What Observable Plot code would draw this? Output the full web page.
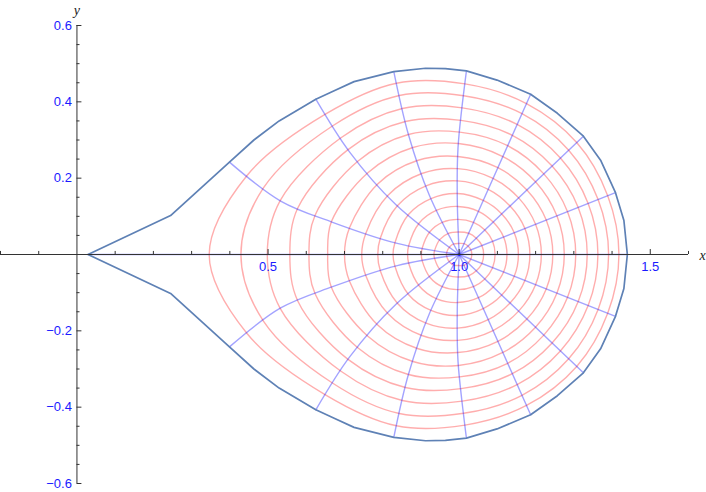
<!DOCTYPE html>
<html>
<head>
<meta charset="utf-8">
<script src="https://cdn.jsdelivr.net/npm/d3@7"></script>
<script src="https://cdn.jsdelivr.net/npm/@observablehq/plot@0.6"></script>
<style>
  html, body { margin: 0; padding: 0; background: #fff; }
</style>
</head>
<body>
<div id="chart"></div>
<script>
// ---- data (data units) ----
const center = [1.0, 0.0];

// outer boundary, upper half, from the right end round to the tip
const boundaryUpper = [
  [1.440, 0.000], [1.431, 0.089], [1.409, 0.162], [1.370, 0.247], [1.325, 0.310],
  [1.257, 0.370], [1.187, 0.420], [1.099, 0.457], [1.019, 0.481], [0.964, 0.487],
  [0.912, 0.488], [0.829, 0.479], [0.725, 0.453], [0.673, 0.429], [0.625, 0.407],
  [0.529, 0.350], [0.463, 0.300], [0.399, 0.242], [0.245, 0.102], [0.029, 0.000]
];

// blue mesh curves (upper half), from the centre out to the boundary
const rayPaths = [
  [[1, 0], [1.440, 0]],
  [[1, 0], [1.409, 0.162]],
  [[1, 0], [1.325, 0.310]],
  [[1, 0], [1.187, 0.420]],
  [[1, 0], [0.995, 0.150], [0.997, 0.280], [1.019, 0.481]],
  [[1, 0], [0.922, 0.155], [0.867, 0.315], [0.829, 0.479]],
  [[1, 0], [0.834, 0.131], [0.713, 0.269], [0.625, 0.407]],
  [[1, 0], [0.838, 0.029], [0.667, 0.085], [0.533, 0.140], [0.399, 0.242]],
  [[1, 0], [0.029, 0]]
];

// distance along each blue curve at which the 14 red contours cross it
const contourRadii = [
  [0.033, 0.064, 0.094, 0.125, 0.155, 0.185, 0.215, 0.245, 0.275, 0.305, 0.335, 0.363, 0.391, 0.418],
  [0.033, 0.064, 0.094, 0.125, 0.155, 0.185, 0.215, 0.245, 0.275, 0.305, 0.335, 0.363, 0.391, 0.418],
  [0.032, 0.062, 0.093, 0.123, 0.154, 0.184, 0.215, 0.245, 0.276, 0.306, 0.336, 0.366, 0.396, 0.425],
  [0.031, 0.061, 0.092, 0.124, 0.155, 0.187, 0.218, 0.249, 0.281, 0.312, 0.342, 0.373, 0.404, 0.433],
  [0.029, 0.059, 0.092, 0.126, 0.160, 0.193, 0.225, 0.257, 0.291, 0.321, 0.352, 0.385, 0.417, 0.448],
  [0.031, 0.062, 0.095, 0.130, 0.164, 0.200, 0.234, 0.270, 0.306, 0.342, 0.377, 0.412, 0.447, 0.480],
  [0.032, 0.064, 0.097, 0.133, 0.169, 0.206, 0.243, 0.283, 0.322, 0.362, 0.402, 0.438, 0.476, 0.512],
  [0.033, 0.065, 0.098, 0.134, 0.171, 0.211, 0.251, 0.296, 0.346, 0.392, 0.441, 0.491, 0.546, 0.600],
  [0.033, 0.066, 0.099, 0.135, 0.173, 0.213, 0.255, 0.300, 0.344, 0.393, 0.443, 0.502, 0.571, 0.654]
];

// axes
const xMajorTicks = [0.5, 1.0, 1.5];
const xTickLabels = ["0.5", "1.0", "1.5"];
const xMinorTicks = [-0.2, -0.1, 0.1, 0.2, 0.3, 0.4, 0.6, 0.7, 0.8, 0.9, 1.1, 1.2, 1.3, 1.4, 1.6];
const yMajorTicks = [-0.6, -0.4, -0.2, 0.2, 0.4, 0.6];
const yTickLabels = ["\u22120.6", "\u22120.4", "\u22120.2", "0.2", "0.4", "0.6"];
const yMinorTicks = [-0.55, -0.5, -0.45, -0.35, -0.3, -0.25, -0.15, -0.1, -0.05,
                     0.05, 0.1, 0.15, 0.25, 0.3, 0.35, 0.45, 0.5, 0.55];

// ---- geometry helpers ----
function pointAlong(path, s) {
  let rem = s;
  for (let i = 1; i < path.length; i++) {
    const [x0, y0] = path[i - 1], [x1, y1] = path[i];
    const len = Math.hypot(x1 - x0, y1 - y0);
    if (rem <= len || i === path.length - 1) {
      const t = rem / len;
      return [x0 + t * (x1 - x0), y0 + t * (y1 - y0)];
    }
    rem -= len;
  }
}
const mirror = ([x, y]) => [x, -y];

// boundary closed path
const boundary = boundaryUpper.concat(boundaryUpper.slice(1, -1).reverse().map(mirror))
  .map(([x, y]) => ({x, y}));

// all 16 blue curves
const rays = rayPaths.concat(rayPaths.slice(1, 8).map(p => p.map(mirror)));
const rayRows = rays.flatMap((p, r) => p.map(([x, y]) => ({ray: r, x, y})));

// 14 red contours through their crossings with the blue curves
const nK = contourRadii[0].length;
const contourRows = [];
for (let k = 0; k < nK; k++) {
  const upper = rayPaths.map((p, j) => pointAlong(p, contourRadii[j][k]));
  const lower = upper.slice(1, 8).reverse().map(mirror);
  upper.concat(lower).forEach(([x, y]) => contourRows.push({k, x, y}));
}

const axisColor = "#333";
const labelBlue = "#1a1aff";

const chart = Plot.plot({
  width: 706,
  height: 492,
  marginLeft: 0,
  marginRight: 18,
  marginTop: 25,
  marginBottom: 9,
  x: {domain: [-0.2, 1.6], axis: null},
  y: {domain: [-0.6, 0.6], axis: null},
  style: {fontFamily: "'Liberation Sans', Arial, sans-serif", fontSize: "13px", background: "#fff"},
  marks: [
    Plot.line(contourRows, {x: "x", y: "y", z: "k", curve: "catmull-rom-closed",
      stroke: "#ff0000", strokeOpacity: 0.32, strokeWidth: 1.4}),
    Plot.line(rayRows, {x: "x", y: "y", z: "ray", curve: "catmull-rom",
      stroke: "#0000ff", strokeOpacity: 0.36, strokeWidth: 1.4}),
    Plot.line(boundary, {x: "x", y: "y", curve: "linear-closed",
      stroke: "#5e81b5", strokeWidth: 1.7, strokeLinejoin: "round"}),
    // axes
    Plot.ruleY([0], {x1: -0.2, x2: 1.6, stroke: axisColor, strokeWidth: 1}),
    Plot.ruleX([0], {y1: -0.6, y2: 0.6, stroke: axisColor, strokeWidth: 1}),
    Plot.ruleX(xMinorTicks, {y1: 0, y2: 0.008, stroke: axisColor}),
    Plot.ruleX(xMajorTicks, {y1: 0, y2: 0.013, stroke: axisColor}),
    Plot.ruleY(yMinorTicks, {x1: 0, x2: 0.008, stroke: axisColor}),
    Plot.ruleY(yMajorTicks, {x1: 0, x2: 0.013, stroke: axisColor}),
    Plot.text(xMajorTicks, {x: d => d, y: 0, text: (d, i) => xTickLabels[i],
      dy: 12, fill: labelBlue, fontSize: 13}),
    Plot.text(yMajorTicks, {x: 0, y: d => d, text: (d, i) => yTickLabels[i],
      dx: -5, textAnchor: "end", fill: labelBlue, fontSize: 13}),
    Plot.text(["x"], {x: 1.6, y: 0, text: d => d, dx: 14, dy: 1,
      fontFamily: "'Liberation Serif', 'DejaVu Serif', serif", fontStyle: "italic", fontSize: 14, fill: "#222"}),
    Plot.text(["y"], {x: 0, y: 0.6, text: d => d, dy: -15,
      fontFamily: "'Liberation Serif', 'DejaVu Serif', serif", fontStyle: "italic", fontSize: 14, fill: "#222"})
  ]
});
document.getElementById("chart").appendChild(chart);
</script>
</body>
</html>
